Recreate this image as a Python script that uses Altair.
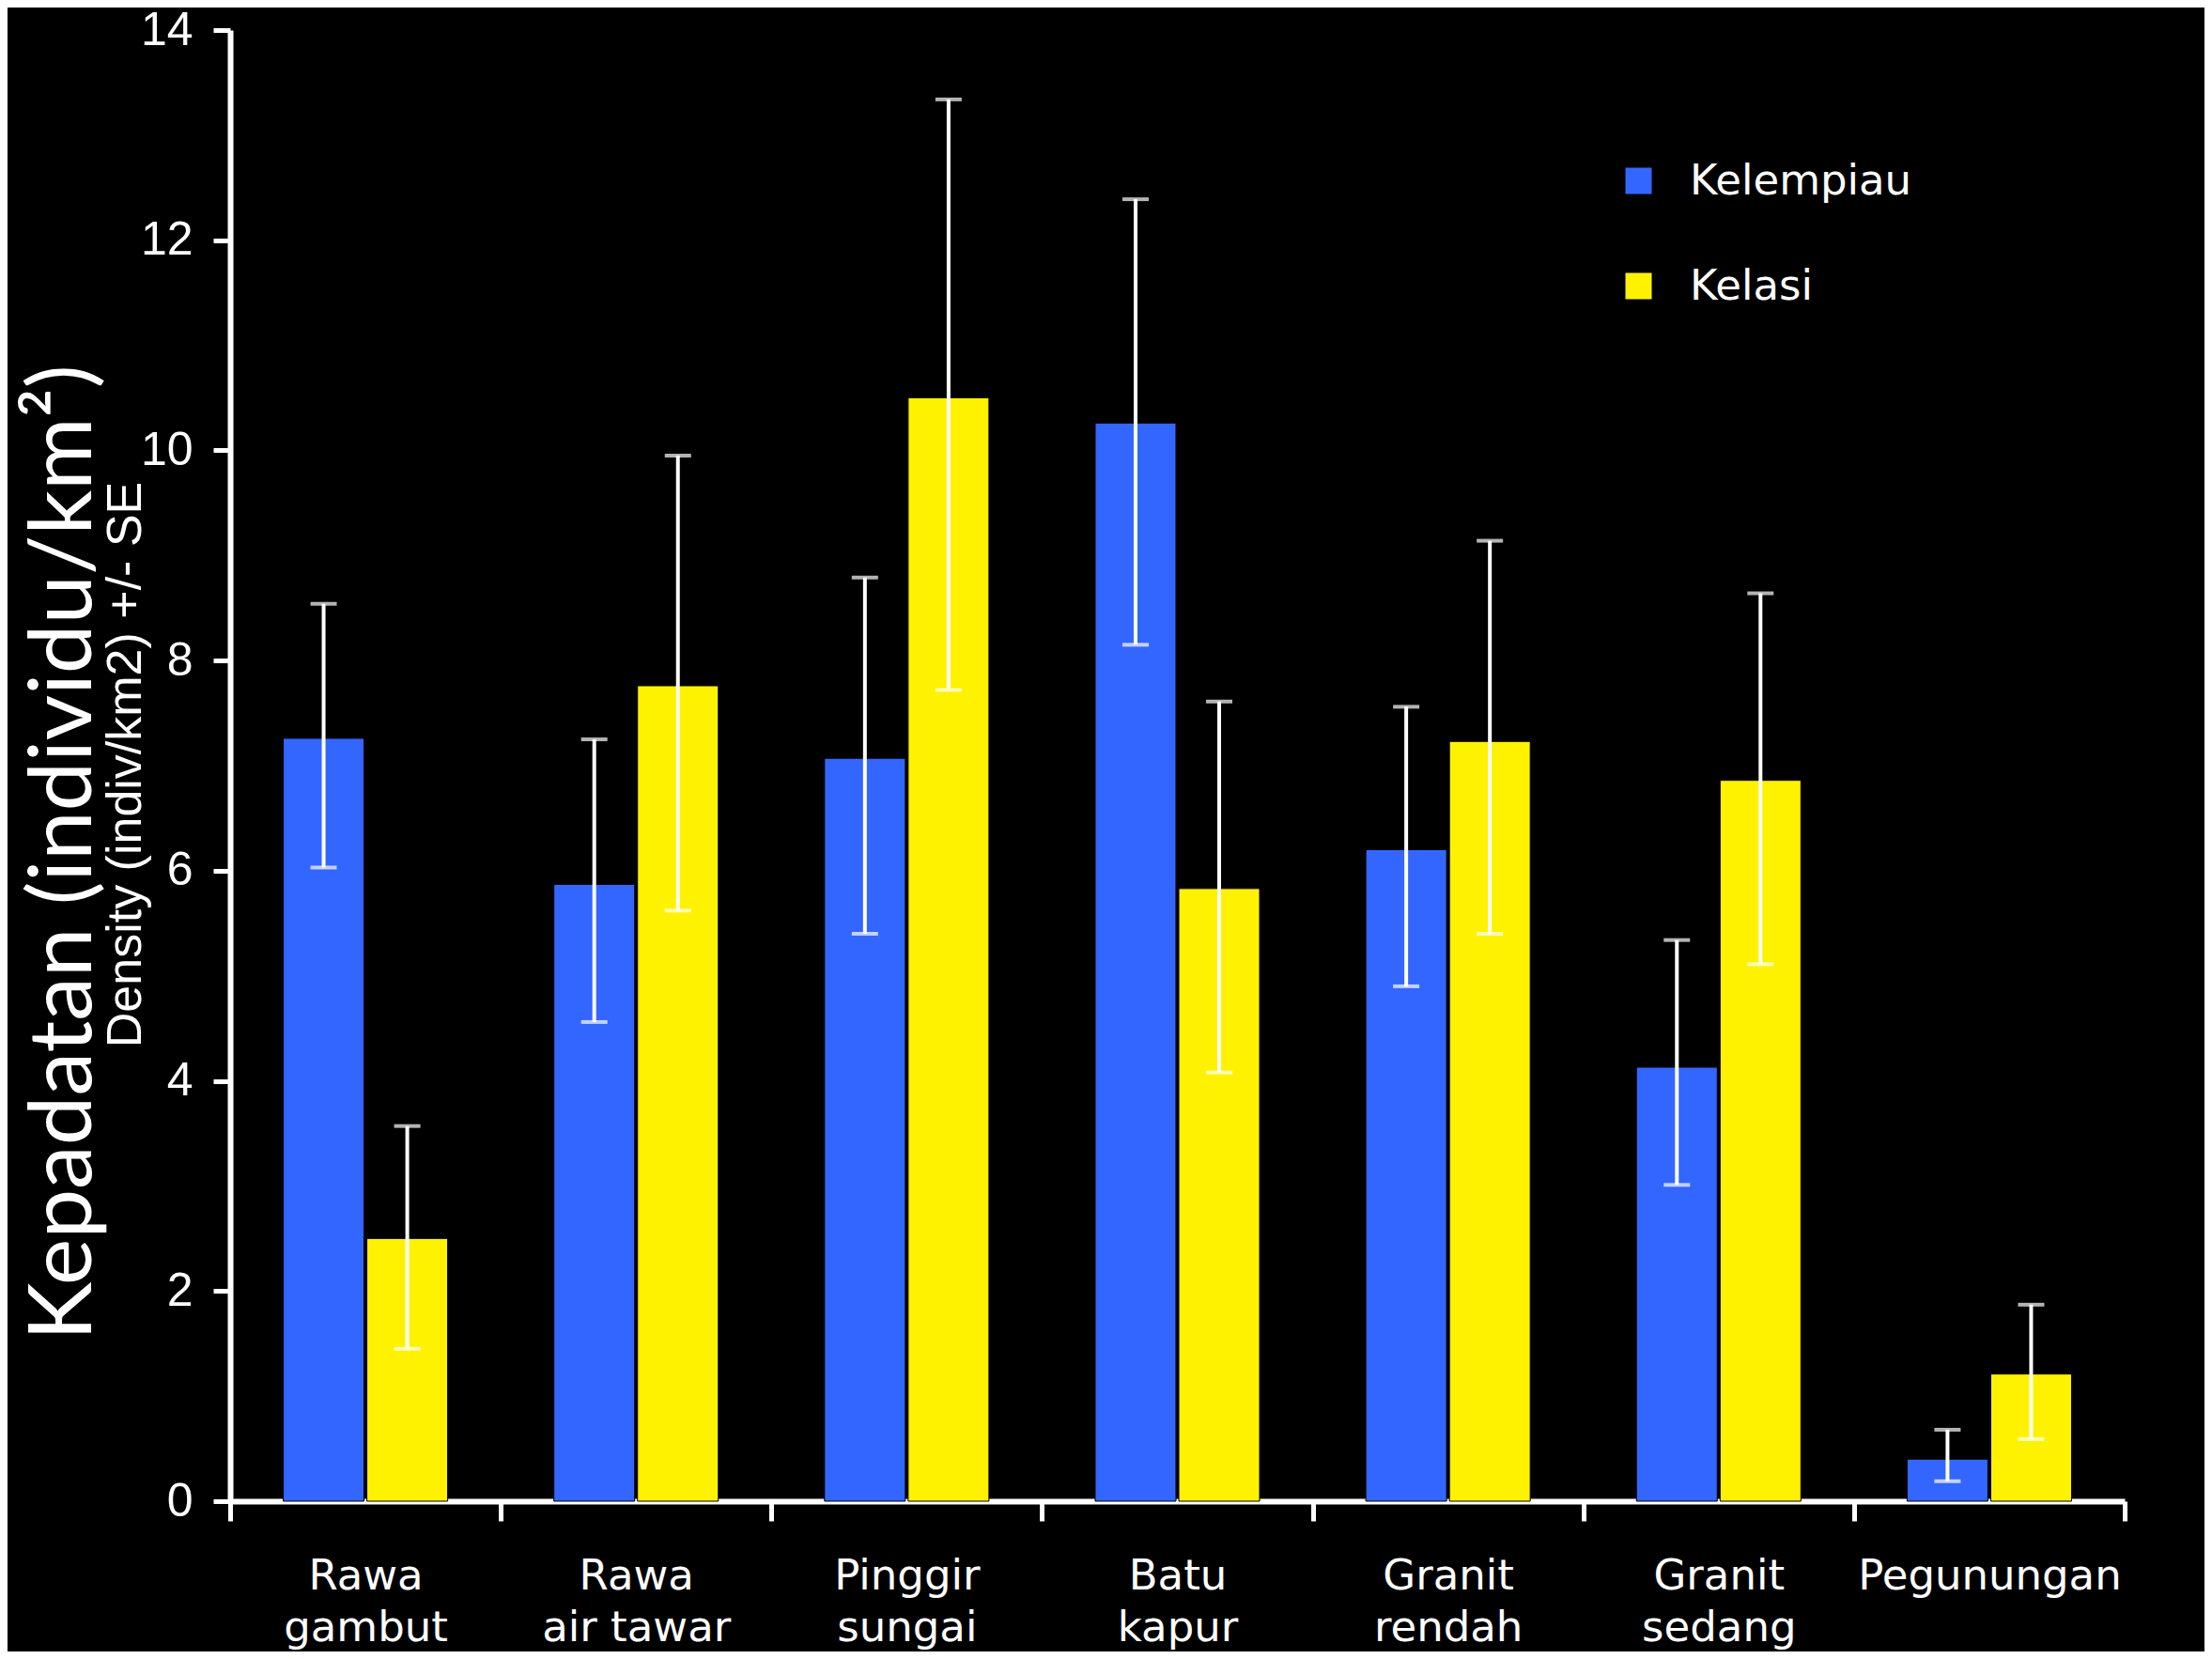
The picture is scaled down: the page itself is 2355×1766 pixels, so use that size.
import altair as alt
import pandas as pd

categories = ["Rawa|gambut", "Rawa|air tawar", "Pinggir|sungai", "Batu|kapur",
              "Granit|rendah", "Granit|sedang", "Pegunungan"]
series = ["Kelempiau", "Kelasi"]

kelempiau_mean = [7.26, 5.87, 7.07, 10.26, 6.20, 4.13, 0.40]
kelempiau_hi = [8.54, 7.25, 8.79, 12.39, 7.56, 5.34, 0.68]
kelempiau_lo = [6.03, 4.56, 5.40, 8.15, 4.90, 3.01, 0.19]

kelasi_mean = [2.50, 7.76, 10.50, 5.83, 7.23, 6.86, 1.21]
kelasi_hi = [3.57, 9.95, 13.34, 7.61, 9.14, 8.64, 1.87]
kelasi_lo = [1.45, 5.62, 7.72, 4.08, 5.40, 5.11, 0.59]

y_ticks = [0, 2, 4, 6, 8, 10, 12, 14]
colors = ["#3366FF", "#FFF200"]
ghost_label = ["Density (indiv/km2) +/- SE"]

rows = []
for i, c in enumerate(categories):
    rows.append({"cat": c, "sp": series[0], "mean": kelempiau_mean[i],
                 "hi": kelempiau_hi[i], "lo": kelempiau_lo[i]})
    rows.append({"cat": c, "sp": series[1], "mean": kelasi_mean[i],
                 "hi": kelasi_hi[i], "lo": kelasi_lo[i]})
df = pd.DataFrame(rows)

x_enc = alt.X("cat:N", sort=categories,
              scale=alt.Scale(paddingInner=0, paddingOuter=0),
              axis=alt.Axis(title=None, labelAngle=0,
                            labelExpr="split(datum.label, '|')",
                            labelFont="DejaVu Sans", labelFontSize=45,
                            labelLineHeight=55, labelColor="white",
                            labelPadding=36, labelBaseline="top",
                            labelLimit=1000,
                            tickBand="extent", tickSize=21, tickWidth=5,
                            tickColor="white", domainColor="white",
                            domainWidth=6, labelFlush=False,
                            labelOverlap=False, labelBound=False))
xo = alt.XOffset("sp:N", sort=series,
                 scale=alt.Scale(paddingInner=0.034, paddingOuter=0.635))
y_scale = alt.Scale(domain=[0, 14], nice=False)

base = alt.Chart(df)

bars = base.mark_bar(stroke="#000000", strokeWidth=1).encode(
    x=x_enc,
    xOffset=xo,
    y=alt.Y("mean:Q", scale=y_scale,
            axis=alt.Axis(values=y_ticks, grid=False, format="d",
                          title="Kepadatan (individu/km²)",
                          titleFont="Lato", titleFontSize=94,
                          titleFontWeight="normal", titleColor="white",
                          titleAngle=270, titleX=-177, titleY=875,
                          titleAlign="center", titleBaseline="middle",
                          labelFont="Liberation Sans", labelFontSize=50,
                          labelColor="white", labelPadding=22,
                          tickSize=18, tickWidth=5, tickColor="white",
                          domainColor="white", domainWidth=6)),
    color=alt.Color("sp:N", sort=series,
                    scale=alt.Scale(domain=series, range=colors),
                    legend=alt.Legend(title=None, orient="none",
                                      legendX=1477, legendY=138,
                                      direction="vertical",
                                      symbolType="square", symbolSize=784,
                                      symbolStrokeWidth=0,
                                      labelFont="DejaVu Sans",
                                      labelFontSize=45, labelColor="white",
                                      labelOffset=32, rowPadding=66,
                                      labelLimit=1000, padding=0)),
)

rules = base.mark_rule(color="white", strokeWidth=4).encode(
    x=alt.X("cat:N", sort=categories),
    xOffset=xo,
    y=alt.Y("lo:Q", scale=y_scale),
    y2="hi:Q",
)

caps_hi = base.mark_tick(color="white", size=28, thickness=4).encode(
    x=alt.X("cat:N", sort=categories),
    xOffset=xo,
    y=alt.Y("hi:Q", scale=y_scale),
)
caps_lo = base.mark_tick(color="white", size=28, thickness=4).encode(
    x=alt.X("cat:N", sort=categories),
    xOffset=xo,
    y=alt.Y("lo:Q", scale=y_scale),
)

ghost = alt.Chart(pd.DataFrame({"t": ghost_label})).mark_text(
    color="white", font="Liberation Sans", fontSize=52, angle=270,
    align="center", baseline="alphabetic"
).encode(text="t:N", x=alt.value(-95), y=alt.value(782))

chart = alt.layer(bars, rules, caps_hi, caps_lo, ghost).properties(
    width=2017, height=1566, background="black",
    autosize=alt.AutoSizeParams(type="none"),
    padding={"left": 237, "top": 24, "right": 85, "bottom": 160},
).configure_view(stroke=None)

chart.save("out.html", embed_options={"renderer": "svg", "actions": False})
